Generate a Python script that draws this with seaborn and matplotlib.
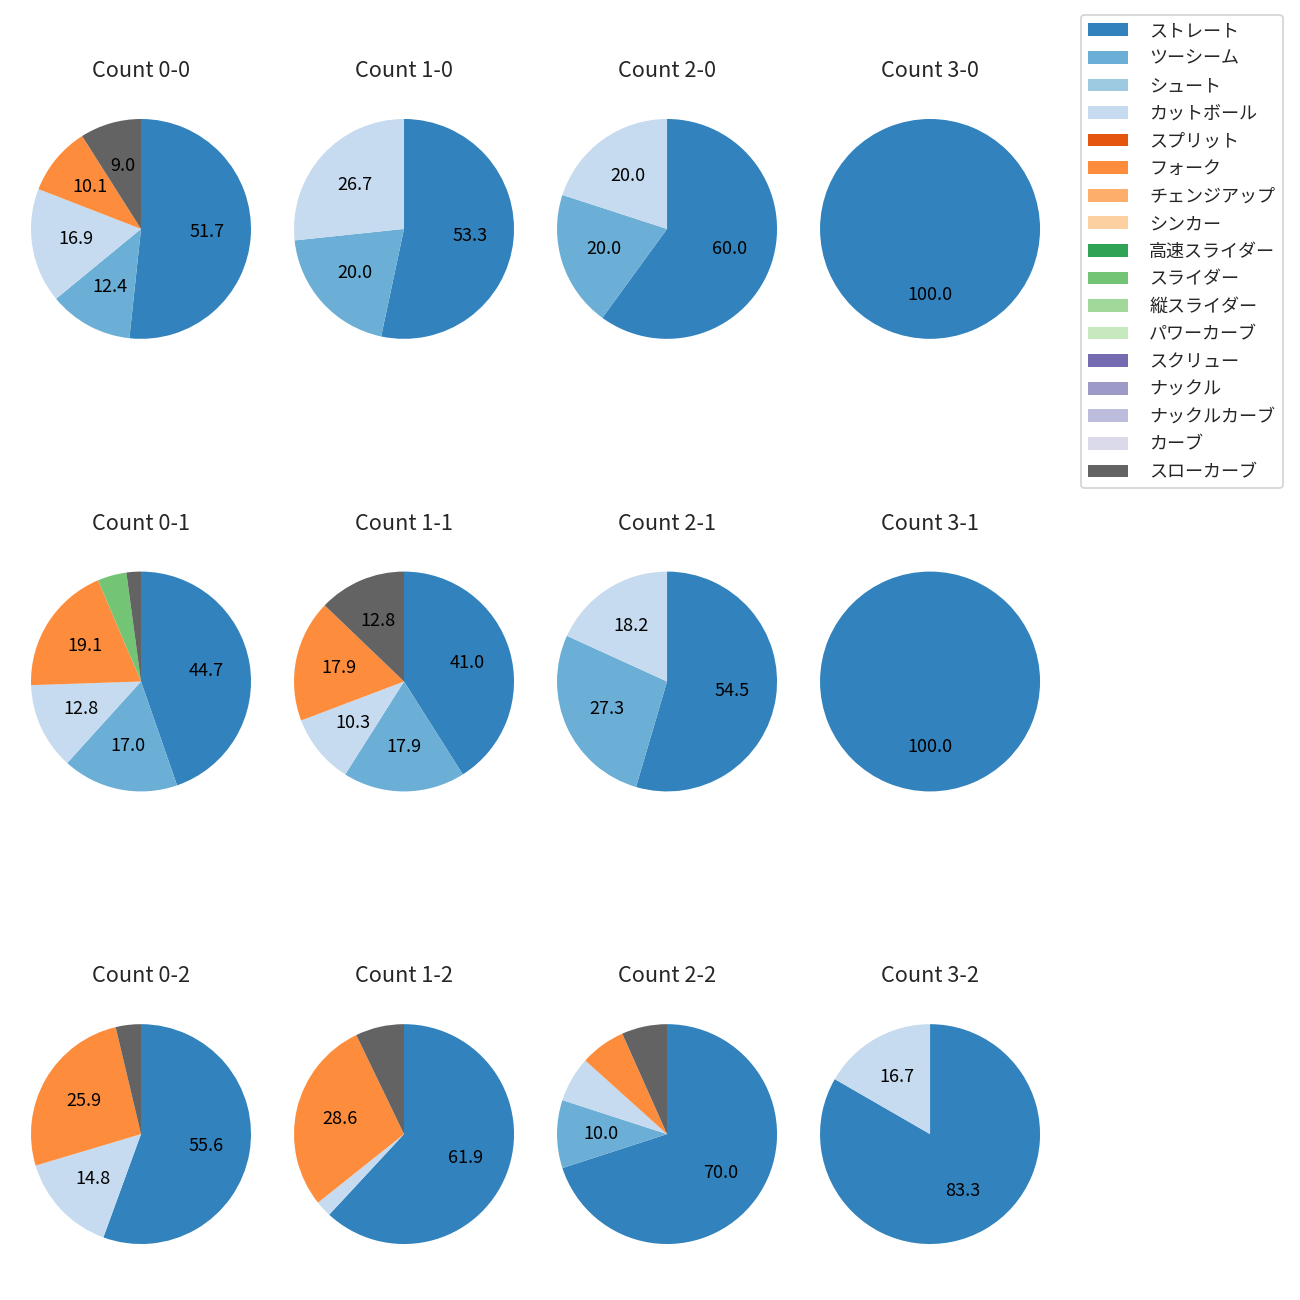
import matplotlib
matplotlib.use('Agg')
import matplotlib.pyplot as plt
import seaborn as sns
from matplotlib.patches import Patch

sns.set_theme(style='white')
plt.rcParams['font.family'] = ['Noto Sans CJK JP', 'DejaVu Sans']

pitch_types = ['ストレート', 'ツーシーム', 'シュート', 'カットボール', 'スプリット', 'フォーク',
               'チェンジアップ', 'シンカー', '高速スライダー', 'スライダー', '縦スライダー',
               'パワーカーブ', 'スクリュー', 'ナックル', 'ナックルカーブ', 'カーブ', 'スローカーブ']

balls = [0, 1, 2, 3]
strikes = [0, 1, 2]

# pitch counts per ball-strike count, aligned with pitch_types
#            St 2S Sh Cut Spl Fk Ch Si HS Sl VS PC Sc Kn KC Cv SC
count_0_0 = [46, 11, 0, 15, 0, 9, 0, 0, 0, 0, 0, 0, 0, 0, 0, 0, 8]
count_1_0 = [8, 3, 0, 4, 0, 0, 0, 0, 0, 0, 0, 0, 0, 0, 0, 0, 0]
count_2_0 = [3, 1, 0, 1, 0, 0, 0, 0, 0, 0, 0, 0, 0, 0, 0, 0, 0]
count_3_0 = [1, 0, 0, 0, 0, 0, 0, 0, 0, 0, 0, 0, 0, 0, 0, 0, 0]
count_0_1 = [21, 8, 0, 6, 0, 9, 0, 0, 0, 2, 0, 0, 0, 0, 0, 0, 1]
count_1_1 = [16, 7, 0, 4, 0, 7, 0, 0, 0, 0, 0, 0, 0, 0, 0, 0, 5]
count_2_1 = [6, 3, 0, 2, 0, 0, 0, 0, 0, 0, 0, 0, 0, 0, 0, 0, 0]
count_3_1 = [2, 0, 0, 0, 0, 0, 0, 0, 0, 0, 0, 0, 0, 0, 0, 0, 0]
count_0_2 = [15, 0, 0, 4, 0, 7, 0, 0, 0, 0, 0, 0, 0, 0, 0, 0, 1]
count_1_2 = [26, 0, 0, 1, 0, 12, 0, 0, 0, 0, 0, 0, 0, 0, 0, 0, 3]
count_2_2 = [21, 3, 0, 2, 0, 2, 0, 0, 0, 0, 0, 0, 0, 0, 0, 0, 2]
count_3_2 = [5, 0, 0, 1, 0, 0, 0, 0, 0, 0, 0, 0, 0, 0, 0, 0, 0]

grid_values = [
    [count_0_0, count_1_0, count_2_0, count_3_0],
    [count_0_1, count_1_1, count_2_1, count_3_1],
    [count_0_2, count_1_2, count_2_2, count_3_2],
]

colors = sns.color_palette('tab20c', len(pitch_types))

fig, axes = plt.subplots(
    3, 4, figsize=(10, 10), dpi=130,
    gridspec_kw=dict(left=0.01538, right=0.8085, top=0.9323, bottom=0.01923,
                     wspace=0.0868, hspace=0.606))

ratio = 282 / 242


def fmt(p):
    return f'{p:.1f}' if p >= 8 else ''


for r, s in enumerate(strikes):
    for c, b in enumerate(balls):
        ax = axes[r][c]
        vals = grid_values[r][c]
        v = [x for x in vals if x > 0]
        cols = [colors[i] for i, x in enumerate(vals) if x > 0]
        ax.pie(v, colors=cols, startangle=90, counterclock=False,
               autopct=fmt, textprops=dict(fontsize=10, color='black'),
               wedgeprops=dict(linewidth=0))
        ax.set_aspect('auto')
        ax.set_xlim(-1.1, 1.1)
        ax.set_ylim(-1.1 * ratio, 1.1 * ratio)
        ax.set_title(f'Count {b}-{s}', fontsize=12)
        ax.axis('off')

handles = [Patch(facecolor=colors[i], edgecolor='none', label=pitch_types[i])
           for i in range(len(pitch_types))]
fig.legend(handles=handles, loc='upper right', bbox_to_anchor=(0.9935, 0.9955),
           fontsize=10, handlelength=2.2, handletextpad=1.2, labelspacing=0.53,
           frameon=True)

fig.savefig('out.png', dpi=130)
